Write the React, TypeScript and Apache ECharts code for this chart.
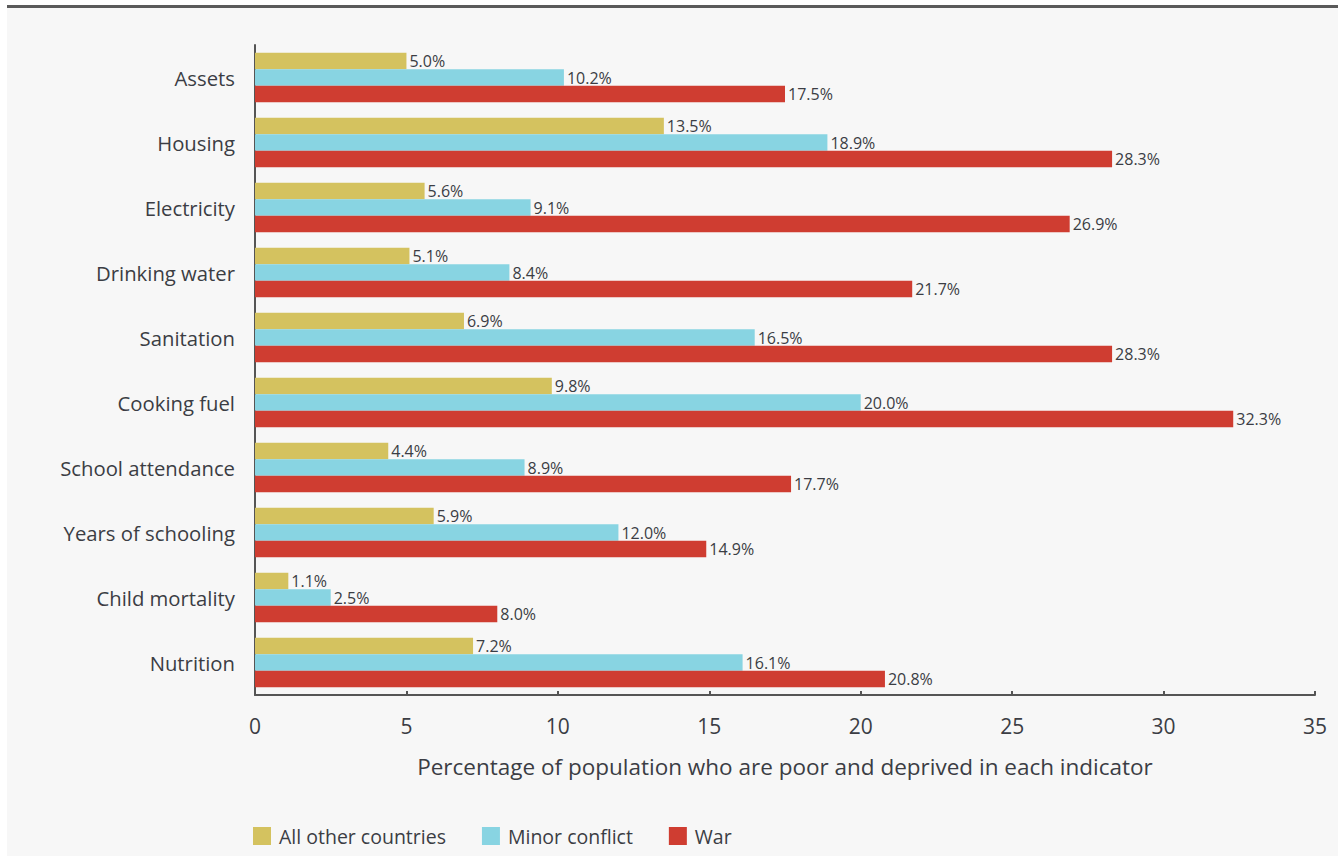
import React, { useEffect, useRef } from "react";
import * as echarts from "echarts";

const categories = [
  "Assets",
  "Housing",
  "Electricity",
  "Drinking water",
  "Sanitation",
  "Cooking fuel",
  "School attendance",
  "Years of schooling",
  "Child mortality",
  "Nutrition",
];
const allOther = [5.0, 13.5, 5.6, 5.1, 6.9, 9.8, 4.4, 5.9, 1.1, 7.2];
const minorConflict = [10.2, 18.9, 9.1, 8.4, 16.5, 20.0, 8.9, 12.0, 2.5, 16.1];
const war = [17.5, 28.3, 26.9, 21.7, 28.3, 32.3, 17.7, 14.9, 8.0, 20.8];
const seriesNames = ["All other countries", "Minor conflict", "War"];
const colors = ["#d4c25f", "#88d4e2", "#cf3d31"];
const xTicks = [0, 5, 10, 15, 20, 25, 30, 35];

const FONT = "'Open Sans', sans-serif";
const TXT = "#3b3d44";

export default function App() {
  const ref = useRef<HTMLDivElement>(null);
  useEffect(() => {
    if (!ref.current) return;
    const chart = echarts.init(ref.current, undefined, { renderer: "svg" });
    const mk = (name: string, data: number[], color: string) => ({
      name,
      type: "bar",
      data,
      barWidth: 16.5,
      barGap: "0%",
      itemStyle: { color },
      label: {
        show: true,
        position: "right",
        distance: 3,
        formatter: (p: any) => Number(p.value).toFixed(1) + "%",
        color: TXT,
        fontSize: 16,
        fontFamily: FONT,
      },
    });
    chart.setOption({
      animation: false,
      backgroundColor: "#ffffff",
      textStyle: { fontFamily: FONT },
      graphic: [
        {
          type: "rect",
          silent: true,
          z: -10,
          shape: { x: 7, y: 5, width: 1331, height: 851 },
          style: { fill: "#f7f7f7" },
        },
        {
          type: "line",
          silent: true,
          shape: { x1: 7, y1: 6.5, x2: 1338, y2: 6.5 },
          style: { stroke: "#5a5a5a", lineWidth: 3 },
        },
      ],
      grid: { left: 255, right: 29, top: 45, height: 650 },
      legend: {
        left: 253,
        top: 826,
        padding: 0,
        itemWidth: 18,
        itemHeight: 18,
        itemGap: 36,
        icon: "rect",
        data: seriesNames,
        textStyle: { fontSize: 19.5, color: TXT, fontFamily: FONT, padding: [0, 0, 0, 3] },
      },
      xAxis: {
        type: "value",
        min: 0,
        max: 35,
        interval: 5,
        name: "Percentage of population who are poor and deprived in each indicator",
        nameLocation: "middle",
        nameGap: 60,
        nameTextStyle: { fontSize: 22.5, color: TXT, fontFamily: FONT },
        axisLine: { show: true, lineStyle: { color: "#555", width: 2 } },
        axisTick: { show: true, inside: true, length: 4, lineStyle: { color: "#555", width: 2 } },
        splitLine: { show: false },
        axisLabel: {
          margin: 20,
          fontSize: 21,
          color: TXT,
          fontFamily: FONT,
          formatter: (v: number) => (xTicks.includes(v) ? String(v) : ""),
        },
      },
      yAxis: {
        type: "category",
        data: categories,
        inverse: true,
        axisLine: { show: true, lineStyle: { color: "#555", width: 2 } },
        axisTick: { show: false },
        axisLabel: { margin: 20, fontSize: 20.3, color: TXT, fontFamily: FONT },
      },
      series: [
        mk(seriesNames[0], allOther, colors[0]),
        mk(seriesNames[1], minorConflict, colors[1]),
        mk(seriesNames[2], war, colors[2]),
      ],
    });
    return () => chart.dispose();
  }, []);
  return (
    <div
      ref={ref}
      style={{ position: "fixed", left: 0, top: 0, width: 1344, height: 856 }}
    />
  );
}
